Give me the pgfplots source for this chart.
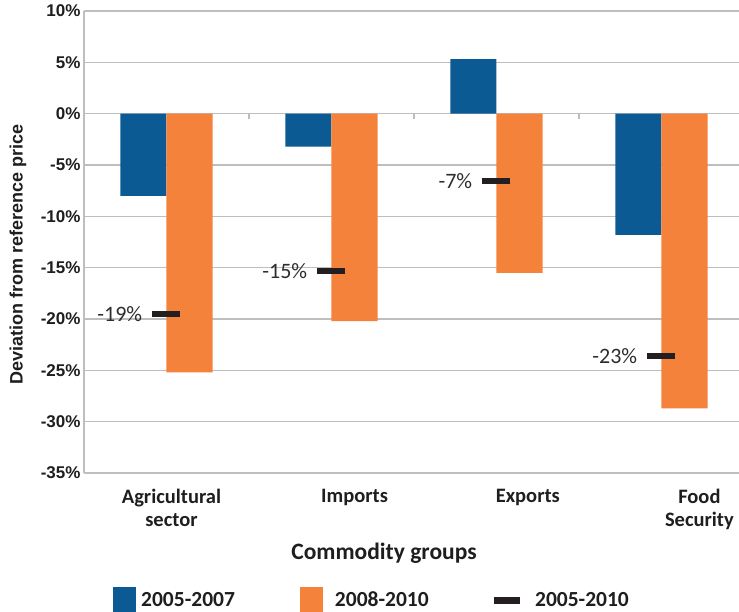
\documentclass[border=0pt]{standalone}
\usepackage{pgfplots}
\pgfplotsset{compat=1.18}
\usepackage{fontspec}
\setmainfont{Carlito}
\newfontfamily\arialfont{Liberation Sans}
\definecolor{cblue}{RGB}{12,90,148}
\definecolor{corange}{RGB}{244,130,58}
\definecolor{cmark}{RGB}{35,31,32}
\definecolor{cgrid}{RGB}{190,190,190}
\definecolor{ctext}{RGB}{30,30,30}
\definecolor{clab}{RGB}{45,45,45}
\begin{document}
\begin{tikzpicture}[x=1pt,y=1pt]
\path[use as bounding box] (-84,-139) rectangle (655,473);
\begin{axis}[
  at={(0,0)}, anchor=south west,
  scale only axis, width=655pt, height=462pt,
  xmin=-0.5, xmax=3.47, ymin=-35, ymax=10,
  axis lines=left,
  axis line style={-, draw=cgrid, line width=1.2pt},
  ymajorgrids, grid style={draw=cgrid, line width=1.2pt},
  ytick={-35,-30,-25,-20,-15,-10,-5,0,5,10},
  yticklabels={-35\%,-30\%,-25\%,-20\%,-15\%,-10\%,-5\%,0\%,5\%,10\%},
  yticklabel style={font=\arialfont\bfseries\fontsize{17}{20}\selectfont, text=ctext},
  xtick={0.03,1.14,2.19,3.23},
  xticklabels={Agricultural\\sector, Imports, Exports, Food\\Security},
  xticklabel style={align=center, font=\bfseries\fontsize{20.5}{23}\selectfont, text=ctext, yshift=-13pt},
  major tick length=0pt,
  xlabel={Commodity groups},
  xlabel style={at={(axis description cs:0.458,0)}, anchor=center, yshift=-80pt, font=\bfseries\fontsize{23.5}{26}\selectfont, text=ctext},
  ylabel={Deviation from reference price},
  ylabel style={at={(axis description cs:-0.1008,0.472)}, anchor=center, rotate=0, font=\arialfont\bfseries\fontsize{18}{20}\selectfont, text=ctext},
  legend columns=3,
  legend style={at={(axis description cs:0,0)}, anchor=west, xshift=26pt, yshift=-127pt,
    draw=none, fill=none,
    font=\bfseries\fontsize{21.5}{24}\selectfont, text=ctext,
    /tikz/every even column/.append style={column sep=63pt}},
  clip=false,
]
\addplot[ybar, bar width=0.28, bar shift=-0.14, fill=cblue, draw=none,
  legend image code/.code={\fill[cblue] (0pt,-13pt) rectangle (23pt,13pt);}]
  coordinates {(0,-8.0) (1,-3.2) (2,5.3) (3,-11.8)};
\addlegendentry{\hspace{3pt}2005-2007}
\addplot[ybar, bar width=0.28, bar shift=0.14, fill=corange, draw=none,
  legend image code/.code={\fill[corange] (0pt,-13pt) rectangle (23pt,13pt);}]
  coordinates {(0,-25.2) (1,-20.2) (2,-15.5) (3,-28.7)};
\addlegendentry{\hspace{10pt}2008-2010}
\addplot[only marks, mark=-, mark size=14pt, mark options={line width=6pt, draw=cmark},
  point meta=explicit symbolic,
  nodes near coords={\pgfplotspointmeta},
  every node near coord/.style={anchor=east, xshift=-18pt, font=\fontsize{22}{24}\selectfont, text=clab},
  legend image code/.code={\fill[cmark] (0pt,-3pt) rectangle (25pt,3pt);}]
  coordinates {(0,-19.5) [-19\%] (1,-15.3) [-15\%] (2,-6.6) [-7\%] (3,-23.6) [-23\%]};
\addlegendentry{\hspace{14pt}2005-2010}
\draw[cgrid, line width=1.2pt] (axis cs:0.5,0) -- ([yshift=-5pt]axis cs:0.5,0);
\draw[cgrid, line width=1.2pt] (axis cs:1.5,0) -- ([yshift=-5pt]axis cs:1.5,0);
\draw[cgrid, line width=1.2pt] (axis cs:2.5,0) -- ([yshift=-5pt]axis cs:2.5,0);
\end{axis}
\end{tikzpicture}
\end{document}
